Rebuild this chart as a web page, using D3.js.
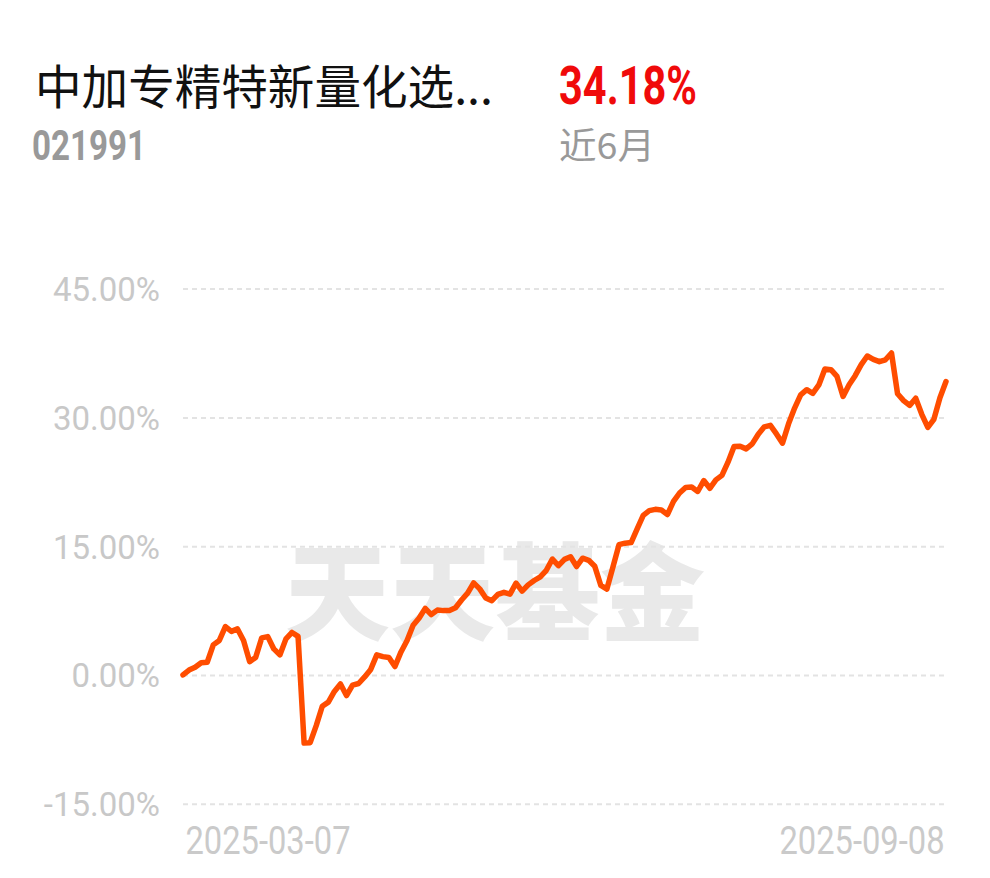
<!DOCTYPE html>
<html>
<head>
<meta charset="utf-8">
<script src="https://cdn.jsdelivr.net/npm/d3@7"></script>
<style>
  html, body { margin: 0; padding: 0; background: #fff; }
  svg { display: block; }
</style>
</head>
<body>
<svg id="chart" width="990" height="878"></svg>
<script>
// ---- data ----
const fundName = "中加专精特新量化选...";
const fundCode = "021991";
const periodReturn = "34.18%";
const periodLabel = "近6月";
const watermark = "天天基金";
const yTicks = [-15, 0, 15, 30, 45];
const xTickLabels = ["2025-03-07", "2025-09-08"];
// cumulative return (%) per trading day, 2025-03-07 .. 2025-09-08
const returns = [
  0.00, 0.57, 0.90, 1.42, 1.48, 3.50, 4.02, 5.63, 5.07, 5.36,
  4.02, 1.55, 2.04, 4.31, 4.46, 3.03, 2.33, 4.20, 4.95, 4.49,
  -7.93, -7.89, -5.91, -3.65, -3.17, -1.92, -1.05, -2.40, -1.19, -1.00,
  -0.23, 0.64, 2.33, 2.13, 2.03, 0.98, 2.68, 4.02, 5.79, 6.64,
  7.75, 7.03, 7.55, 7.49, 7.51, 7.83, 8.73, 9.52, 10.72, 10.02,
  8.97, 8.65, 9.39, 9.62, 9.41, 10.69, 9.76, 10.49, 11.00, 11.42,
  12.19, 13.50, 12.73, 13.46, 13.76, 12.63, 13.60, 13.35, 12.65, 10.42,
  10.00, 12.56, 15.17, 15.35, 15.42, 17.02, 18.59, 19.14, 19.29, 19.20,
  18.69, 20.21, 21.19, 21.84, 21.88, 21.37, 22.64, 21.74, 22.72, 23.24,
  24.78, 26.60, 26.64, 26.33, 26.91, 28.04, 28.90, 29.07, 28.07, 27.00,
  29.25, 31.08, 32.63, 33.22, 32.80, 33.78, 35.63, 35.56, 34.77, 32.44,
  33.80, 34.86, 36.15, 37.15, 36.76, 36.49, 36.71, 37.50, 32.75, 31.96,
  31.39, 32.23, 30.36, 28.83, 29.77, 32.28, 34.18
];

// ---- layout ----
const svg = d3.select("#chart");
const plot = { left: 183, right: 946, top: 288.6, bottom: 803.7 };

const x = d3.scaleLinear().domain([0, returns.length - 1]).range([plot.left, plot.right]);
const y = d3.scaleLinear().domain([-15, 45]).range([plot.bottom, plot.top]);

// header
svg.append("text")
  .attr("x", 35).attr("y", 104)
  .attr("font-family", "'Noto Sans CJK SC', sans-serif")
  .attr("font-size", 47).attr("fill", "#111")
  .attr("textLength", 458).attr("lengthAdjust", "spacingAndGlyphs")
  .text(fundName);

svg.append("text")
  .attr("x", 559).attr("y", 104)
  .attr("font-family", "Roboto, sans-serif").attr("font-weight", "bold")
  .attr("font-size", 53).attr("fill", "#f00a0a")
  .attr("textLength", 138).attr("lengthAdjust", "spacingAndGlyphs")
  .text(periodReturn);

svg.append("text")
  .attr("x", 32).attr("y", 160)
  .attr("font-family", "Roboto, sans-serif").attr("font-weight", "bold")
  .attr("font-size", 42).attr("fill", "#999")
  .attr("textLength", 114).attr("lengthAdjust", "spacingAndGlyphs")
  .text(fundCode);

svg.append("text")
  .attr("x", 559).attr("y", 159)
  .attr("font-family", "'Noto Sans CJK SC', sans-serif")
  .attr("font-size", 36).attr("fill", "#999")
  .attr("textLength", 96).attr("lengthAdjust", "spacingAndGlyphs")
  .text(periodLabel);

// watermark
svg.append("text")
  .attr("x", 285).attr("y", 632)
  .attr("font-family", "'Noto Sans CJK SC', sans-serif").attr("font-weight", 900)
  .attr("font-size", 106).attr("fill", "#e9e9e9")
  .attr("textLength", 420).attr("lengthAdjust", "spacingAndGlyphs")
  .text(watermark);

// y grid + labels
const yAxis = d3.axisLeft(y).tickValues(yTicks)
  .tickSize(-(plot.right - plot.left)).tickPadding(23)
  .tickFormat(d => d.toFixed(2) + "%");
const gy = svg.append("g").attr("transform", `translate(${plot.left},0)`).call(yAxis);
gy.select(".domain").remove();
gy.selectAll(".tick line")
  .attr("stroke", "#e3e3e3").attr("stroke-width", 2).attr("stroke-dasharray", "5,4");
gy.selectAll(".tick text")
  .attr("font-family", "Roboto, sans-serif").attr("font-size", 33)
  .attr("fill", "#c8c8c8").attr("dy", "0.36em");

// x labels
const xAxis = d3.axisBottom(x).tickValues([0, returns.length - 1])
  .tickSize(0).tickFormat((d, i) => xTickLabels[i]);
const gx = svg.append("g").attr("transform", `translate(0,${plot.bottom})`).call(xAxis);
gx.select(".domain").remove();
gx.selectAll(".tick text")
  .attr("font-family", "Roboto, sans-serif").attr("font-size", 38)
  .attr("fill", "#cacaca").attr("dy", 0).attr("y", 50)
  .attr("textLength", 165).attr("lengthAdjust", "spacingAndGlyphs")
  .attr("text-anchor", (d, i) => i === 0 ? "start" : "end")
  .attr("x", (d, i) => i === 0 ? 2 : -2);

// line
const line = d3.line().x((d, i) => x(i)).y(d => y(d));
svg.append("path").datum(returns)
  .attr("d", line)
  .attr("fill", "none").attr("stroke", "#ff4d00")
  .attr("stroke-width", 5.5).attr("stroke-linejoin", "round").attr("stroke-linecap", "round");
</script>
</body>
</html>
